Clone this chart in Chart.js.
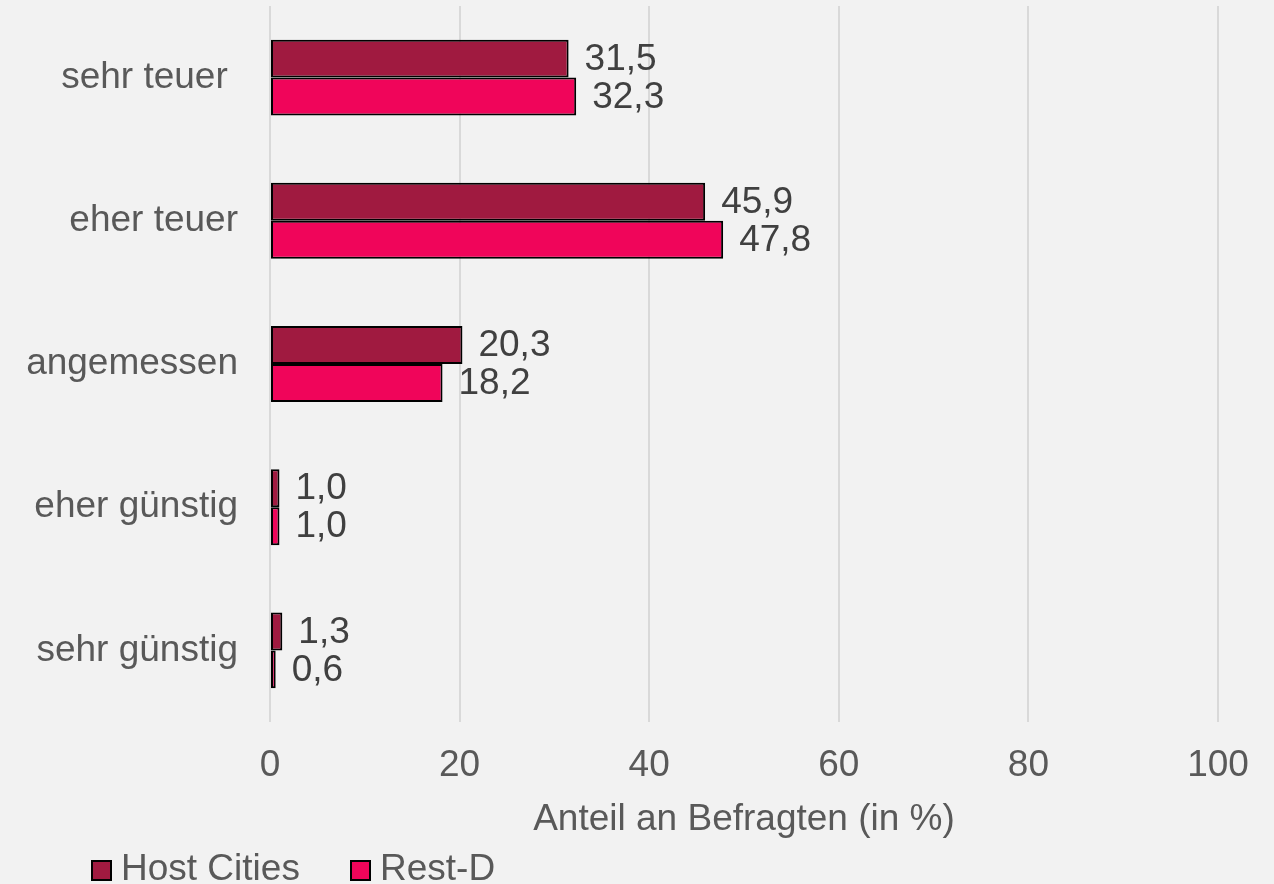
<!DOCTYPE html>
<html>
<head>
<meta charset="utf-8">
<script src="https://cdn.jsdelivr.net/npm/chart.js@4/dist/chart.umd.min.js"></script>
<style>
  html, body { margin: 0; padding: 0; background: #f2f2f2; overflow: hidden; }
  #wrap { width: 1274px; height: 884px; }
</style>
</head>
<body>
<div id="wrap"><canvas id="c" width="1274" height="884"></canvas></div>
<script>
// Bewertung der Preise: Host Cities vs. Rest-D (Anteil in %)
const categories = ['sehr teuer ', 'eher teuer', 'angemessen', 'eher günstig', 'sehr günstig'];
const hostCities = [31.5, 45.9, 20.3, 1.0, 1.3];
const restD = [32.3, 47.8, 18.2, 1.0, 0.6];
const seriesNames = ['Host Cities', 'Rest-D'];
const xTickValues = [0, 20, 40, 60, 80, 100];
const axisTitle = 'Anteil an Befragten (in %)';

const FONT = "'Liberation Sans', Arial, sans-serif";
const FS = 37;
const colors = ['#a01a40', '#f0055a'];
Chart.defaults.font.family = FONT;

// value labels to the right of each bar, decimal comma
const valueLabels = {
  id: 'valueLabels',
  afterDatasetsDraw(chart) {
    const ctx = chart.ctx;
    ctx.save();
    ctx.font = FS + 'px ' + FONT;
    ctx.fillStyle = '#404040';
    ctx.textAlign = 'left';
    ctx.textBaseline = 'middle';
    chart.data.datasets.forEach((ds, i) => {
      chart.getDatasetMeta(i).data.forEach((bar, j) => {
        const txt = ds.data[j].toFixed(1).replace('.', ',');
        ctx.fillText(txt, bar.x + 16, bar.y + 1);
      });
    });
    ctx.restore();
  }
};

// legend row along the bottom-left edge
const bottomLegend = {
  id: 'bottomLegend',
  afterDraw(chart) {
    const ctx = chart.ctx;
    const starts = [92, 351];
    ctx.save();
    ctx.font = FS + 'px ' + FONT;
    ctx.textBaseline = 'middle';
    ctx.textAlign = 'left';
    chart.data.datasets.forEach((ds, i) => {
      const x = starts[i];
      ctx.fillStyle = ds.backgroundColor;
      ctx.fillRect(x, 861, 19, 19);
      ctx.strokeStyle = '#000';
      ctx.lineWidth = 2;
      ctx.strokeRect(x, 861, 19, 19);
      ctx.fillStyle = '#595959';
      ctx.fillText(ds.label, x + 29, 870);
    });
    ctx.restore();
  }
};

new Chart(document.getElementById('c'), {
  type: 'bar',
  data: {
    labels: categories,
    datasets: [
      { label: seriesNames[0], data: hostCities, backgroundColor: colors[0] },
      { label: seriesNames[1], data: restD, backgroundColor: colors[1] }
    ]
  },
  options: {
    indexAxis: 'y',
    responsive: false,
    animation: false,
    devicePixelRatio: 1,
    categoryPercentage: 0.53,
    barPercentage: 1.0,
    layout: { padding: { top: 6, right: 56, left: 0, bottom: 38 } },
    datasets: {
      bar: { borderColor: '#000000', borderWidth: 2, borderSkipped: false }
    },
    plugins: {
      legend: { display: false },
      tooltip: { enabled: false }
    },
    scales: {
      x: {
        min: 0,
        max: 100,
        afterBuildTicks(scale) { scale.ticks = xTickValues.map(v => ({ value: v })); },
        afterFit(scale) {
          scale.height = 124;
          scale.paddingLeft = 0;
          scale.paddingRight = 0;
        },
        grid: { color: '#d9d9d9', lineWidth: 2, drawTicks: false },
        border: { display: false },
        ticks: { color: '#595959', font: { size: FS }, padding: 22 },
        title: {
          display: true,
          text: axisTitle,
          color: '#595959',
          font: { size: FS },
          padding: { top: 4, bottom: 4 }
        }
      },
      y: {
        afterFit(scale) {
          scale.width = 270;
          scale.paddingTop = 0;
          scale.paddingBottom = 0;
        },
        grid: { display: false },
        border: { display: false },
        ticks: { color: '#595959', font: { size: FS }, padding: 24 }
      }
    }
  },
  plugins: [valueLabels, bottomLegend]
});
</script>
</body>
</html>
